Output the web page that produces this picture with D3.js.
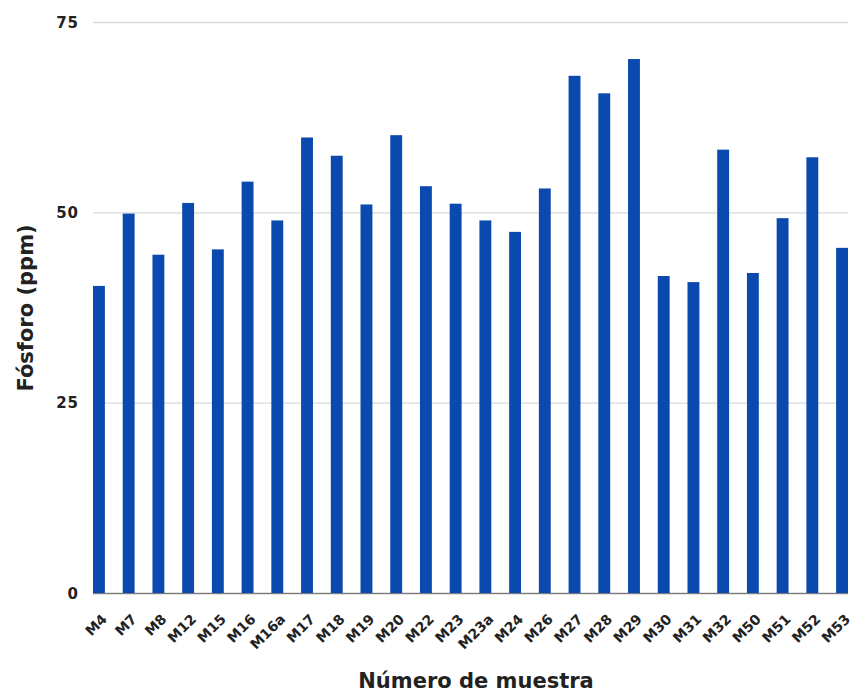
<!DOCTYPE html>
<html>
<head>
<meta charset="utf-8">
<script src="https://cdn.jsdelivr.net/npm/d3@7/dist/d3.min.js"></script>
<style>
  html, body { margin: 0; padding: 0; background: #fff; }
  svg { display: block; }
</style>
</head>
<body>
<svg id="chart" width="853" height="693"></svg>
<script>
const categories = ["M4","M7","M8","M12","M15","M16","M16a","M17","M18","M19","M20","M22","M23","M23a","M24","M26","M27","M28","M29","M30","M31","M32","M50","M51","M52","M53"];
const values = [40.4,49.9,44.5,51.3,45.2,54.1,49.0,59.9,57.5,51.1,60.2,53.5,51.2,49.0,47.5,53.2,68.0,65.7,70.2,41.7,40.9,58.3,42.1,49.3,57.3,45.4];
const yTicks = [0,25,50,75];
const yTitle = "Fósforo (ppm)";
const xTitle = "Número de muestra";

(function () {
const svg = d3.select("#chart");
const mLeft = 93, mRight = 848, mTop = 22.5, mBottom = 593.5;
const font = "'DejaVu Sans', 'Liberation Sans', Arial, sans-serif";

const x = d3.scaleBand().domain(categories).range([mLeft, mRight]).paddingInner(0.6).paddingOuter(0);
const y = d3.scaleLinear().domain([0, 75]).range([mBottom, mTop]);

// gridlines
svg.append("g").selectAll("line").data(yTicks).join("line")
  .attr("x1", mLeft).attr("x2", mRight)
  .attr("y1", d => y(d)).attr("y2", d => y(d))
  .attr("stroke", d => d === 0 ? "#8a8a8a" : "#dadada")
  .attr("stroke-width", 1.3);

// y axis labels
const yAxis = d3.axisLeft(y).tickValues(yTicks).tickSize(0).tickPadding(14);
const ya = svg.append("g").attr("transform", `translate(${mLeft},0)`).call(yAxis);
ya.select(".domain").remove();
ya.selectAll("text").attr("font-family", font).attr("font-weight", "bold")
  .attr("font-size", 15).attr("letter-spacing", 1).attr("fill", "#222");

// bars
svg.append("g").selectAll("rect").data(categories).join("rect")
  .attr("x", d => x(d))
  .attr("width", x.bandwidth())
  .attr("y", (d, i) => y(values[i]))
  .attr("height", (d, i) => mBottom - y(values[i]))
  .attr("fill", "#0a4aae");

// baseline over bars
svg.append("line").attr("x1", mLeft).attr("x2", mRight).attr("y1", mBottom).attr("y2", mBottom)
  .attr("stroke", "#7a7a7a").attr("stroke-width", 1.2);

// x axis labels
const xAxis = d3.axisBottom(x).tickSize(0).tickPadding(0);
const xa = svg.append("g").attr("transform", `translate(0,${mBottom})`).call(xAxis);
xa.select(".domain").remove();
xa.selectAll("text")
  .attr("font-family", font).attr("font-weight", "bold").attr("font-size", 14).attr("fill", "#222")
  .attr("text-anchor", "end")
  .attr("dy", null).attr("y", 0)
  .attr("transform", "translate(9,26.5) rotate(-45)");

// axis titles
svg.append("text").attr("x", 476).attr("y", 688).attr("text-anchor", "middle")
  .attr("font-family", font).attr("font-weight", "bold").attr("font-size", 21).attr("fill", "#222")
  .text(xTitle);
svg.append("text").attr("transform", `translate(33,308) rotate(-90)`).attr("text-anchor", "middle")
  .attr("font-family", font).attr("font-weight", "bold").attr("font-size", 21).attr("fill", "#222")
  .text(yTitle);
})();
</script>
</body>
</html>
